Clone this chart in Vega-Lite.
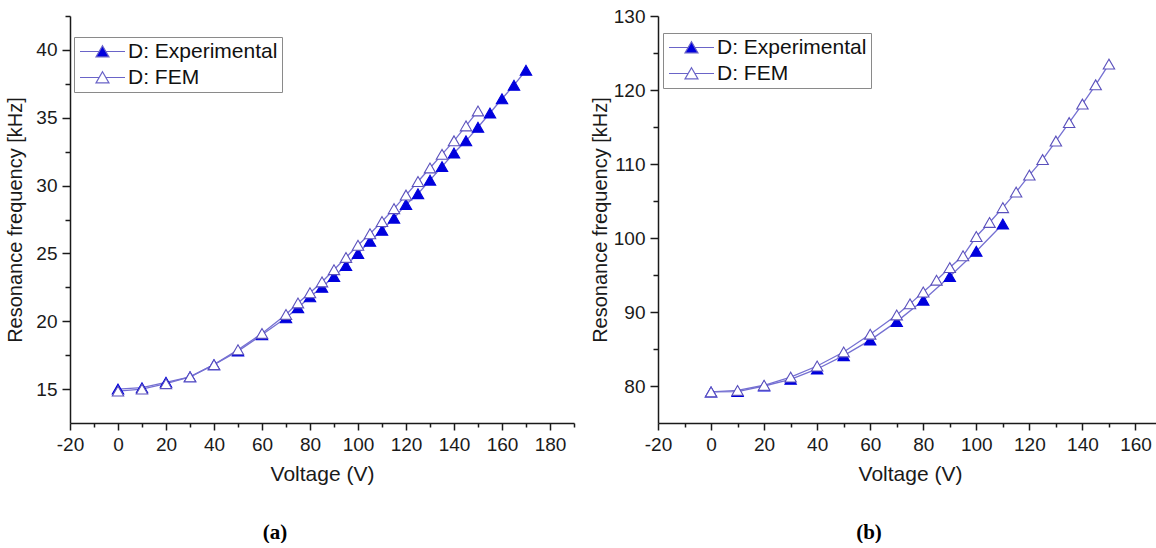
{
  "$schema": "https://vega.github.io/schema/vega-lite/v6.json",
  "padding": {"left": 5, "top": 7, "right": 0, "bottom": 0},
  "background": "white",
  "spacing": 15,
  "config": {
    "font": "Liberation Sans",
    "view": {"stroke": null},
    "axis": {
      "grid": false,
      "domainColor": "#1a1a1a",
      "domainWidth": 1.5,
      "tickColor": "#1a1a1a",
      "tickWidth": 1.5,
      "labelFont": "Liberation Sans",
      "labelFontSize": 19,
      "labelColor": "#1a1a1a",
      "titleFont": "Liberation Sans",
      "titleFontSize": 20,
      "titleFontWeight": "normal",
      "titleColor": "#1a1a1a",
      "labelOverlap": false,
      "labelFlush": false,
      "labelBound": false
    },
    "legend": {
      "orient": "none",
      "title": null,
      "padding": 4,
      "rowPadding": 4,
      "strokeColor": "#8a8a8a",
      "fillColor": "white",
      "labelFont": "Liberation Sans",
      "labelFontSize": 21,
      "labelColor": "#111111",
      "symbolType": "M -3.75 0 L -0.55 0 M 0.55 0 L 3.75 0 M 0 -0.95 L 1.08 0.9 L -1.08 0.9 Z",
      "symbolSize": 144,
      "symbolStrokeColor": "#6a64c8",
      "symbolStrokeWidth": 1.2,
      "symbolOffset": 14,
      "labelOffset": 15
    },
    "title": {"font": "Liberation Serif", "fontSize": 21, "fontWeight": "bold", "color": "#000000"}
  },
  "datasets": {
    "a": [
      {"series": "D: Experimental", "V": 0, "f": 15.0},
      {"series": "D: Experimental", "V": 10, "f": 15.1},
      {"series": "D: Experimental", "V": 20, "f": 15.5},
      {"series": "D: Experimental", "V": 30, "f": 15.9},
      {"series": "D: Experimental", "V": 40, "f": 16.8},
      {"series": "D: Experimental", "V": 50, "f": 17.8},
      {"series": "D: Experimental", "V": 60, "f": 19.0},
      {"series": "D: Experimental", "V": 70, "f": 20.25},
      {"series": "D: Experimental", "V": 75, "f": 21.0},
      {"series": "D: Experimental", "V": 80, "f": 21.8},
      {"series": "D: Experimental", "V": 85, "f": 22.5},
      {"series": "D: Experimental", "V": 90, "f": 23.3},
      {"series": "D: Experimental", "V": 95, "f": 24.1},
      {"series": "D: Experimental", "V": 100, "f": 25.0},
      {"series": "D: Experimental", "V": 105, "f": 25.9},
      {"series": "D: Experimental", "V": 110, "f": 26.7},
      {"series": "D: Experimental", "V": 115, "f": 27.6},
      {"series": "D: Experimental", "V": 120, "f": 28.6},
      {"series": "D: Experimental", "V": 125, "f": 29.4},
      {"series": "D: Experimental", "V": 130, "f": 30.4},
      {"series": "D: Experimental", "V": 135, "f": 31.4},
      {"series": "D: Experimental", "V": 140, "f": 32.4},
      {"series": "D: Experimental", "V": 145, "f": 33.3},
      {"series": "D: Experimental", "V": 150, "f": 34.3},
      {"series": "D: Experimental", "V": 155, "f": 35.35},
      {"series": "D: Experimental", "V": 160, "f": 36.4},
      {"series": "D: Experimental", "V": 165, "f": 37.4},
      {"series": "D: Experimental", "V": 170, "f": 38.5},
      {"series": "D: FEM", "V": 0, "f": 14.85},
      {"series": "D: FEM", "V": 10, "f": 15.0},
      {"series": "D: FEM", "V": 20, "f": 15.4},
      {"series": "D: FEM", "V": 30, "f": 15.9},
      {"series": "D: FEM", "V": 40, "f": 16.8},
      {"series": "D: FEM", "V": 50, "f": 17.9},
      {"series": "D: FEM", "V": 60, "f": 19.1},
      {"series": "D: FEM", "V": 70, "f": 20.5},
      {"series": "D: FEM", "V": 75, "f": 21.35},
      {"series": "D: FEM", "V": 80, "f": 22.1},
      {"series": "D: FEM", "V": 85, "f": 22.9},
      {"series": "D: FEM", "V": 90, "f": 23.8},
      {"series": "D: FEM", "V": 95, "f": 24.7},
      {"series": "D: FEM", "V": 100, "f": 25.6},
      {"series": "D: FEM", "V": 105, "f": 26.45},
      {"series": "D: FEM", "V": 110, "f": 27.35},
      {"series": "D: FEM", "V": 115, "f": 28.3},
      {"series": "D: FEM", "V": 120, "f": 29.3},
      {"series": "D: FEM", "V": 125, "f": 30.3},
      {"series": "D: FEM", "V": 130, "f": 31.3},
      {"series": "D: FEM", "V": 135, "f": 32.3},
      {"series": "D: FEM", "V": 140, "f": 33.3},
      {"series": "D: FEM", "V": 145, "f": 34.4},
      {"series": "D: FEM", "V": 150, "f": 35.5}
    ],
    "b": [
      {"series": "D: Experimental", "V": 0, "f": 79.2},
      {"series": "D: Experimental", "V": 10, "f": 79.25},
      {"series": "D: Experimental", "V": 20, "f": 80.0},
      {"series": "D: Experimental", "V": 30, "f": 80.9},
      {"series": "D: Experimental", "V": 40, "f": 82.3},
      {"series": "D: Experimental", "V": 50, "f": 84.1},
      {"series": "D: Experimental", "V": 60, "f": 86.2},
      {"series": "D: Experimental", "V": 70, "f": 88.7},
      {"series": "D: Experimental", "V": 80, "f": 91.6},
      {"series": "D: Experimental", "V": 90, "f": 94.8},
      {"series": "D: Experimental", "V": 100, "f": 98.2},
      {"series": "D: Experimental", "V": 110, "f": 101.9},
      {"series": "D: FEM", "V": 0, "f": 79.2},
      {"series": "D: FEM", "V": 10, "f": 79.4},
      {"series": "D: FEM", "V": 20, "f": 80.1},
      {"series": "D: FEM", "V": 30, "f": 81.2},
      {"series": "D: FEM", "V": 40, "f": 82.7},
      {"series": "D: FEM", "V": 50, "f": 84.6},
      {"series": "D: FEM", "V": 60, "f": 87.0},
      {"series": "D: FEM", "V": 70, "f": 89.6},
      {"series": "D: FEM", "V": 75, "f": 91.1},
      {"series": "D: FEM", "V": 80, "f": 92.7},
      {"series": "D: FEM", "V": 85, "f": 94.3},
      {"series": "D: FEM", "V": 90, "f": 96.0},
      {"series": "D: FEM", "V": 95, "f": 97.6},
      {"series": "D: FEM", "V": 100, "f": 100.2},
      {"series": "D: FEM", "V": 105, "f": 102.1},
      {"series": "D: FEM", "V": 110, "f": 104.1},
      {"series": "D: FEM", "V": 115, "f": 106.2},
      {"series": "D: FEM", "V": 120, "f": 108.5},
      {"series": "D: FEM", "V": 125, "f": 110.6},
      {"series": "D: FEM", "V": 130, "f": 113.1},
      {"series": "D: FEM", "V": 135, "f": 115.6},
      {"series": "D: FEM", "V": 140, "f": 118.1},
      {"series": "D: FEM", "V": 145, "f": 120.7},
      {"series": "D: FEM", "V": 150, "f": 123.5}
    ]
  },
  "resolve": {
    "scale": {"x": "independent", "y": "independent", "fill": "independent"},
    "legend": {"fill": "independent"}
  },
  "hconcat": [
    {
      "width": 504,
      "height": 407,
      "data": {"name": "a"},
      "title": {"text": "(a)", "orient": "bottom", "anchor": "middle", "frame": "group", "offset": 38, "dx": -47},
      "encoding": {
        "x": {
          "field": "V", "type": "quantitative",
          "scale": {"domain": [-20, 190], "nice": false, "zero": false},
          "axis": {
            "title": "Voltage (V)", "titleFontSize": 21, "titlePadding": 9,
            "values": [-20, -10, 0, 10, 20, 30, 40, 50, 60, 70, 80, 90, 100, 110, 120, 130, 140, 150, 160, 170, 180, 190],
            "labelExpr": "datum.value % 20 === 0 ? '' + datum.value : ''",
            "tickSize": {"condition": {"test": "datum.value % 20 !== 0", "value": 4}, "value": 7},
            "labelPadding": 5
          }
        },
        "y": {
          "field": "f", "type": "quantitative",
          "scale": {"domain": [12.5, 42.5], "nice": false, "zero": false},
          "axis": {
            "title": "Resonance frequency [kHz]", "titlePadding": 10,
            "values": [15, 17.5, 20, 22.5, 25, 27.5, 30, 32.5, 35, 37.5, 40, 42.5],
            "labelExpr": "datum.value % 5 === 0 ? '' + datum.value : ''",
            "tickSize": {"condition": {"test": "datum.value % 5 !== 0", "value": 5}, "value": 8},
            "labelPadding": 5
          }
        }
      },
      "layer": [
        {
          "mark": {"type": "line", "color": "#7570d2", "strokeWidth": 1.3},
          "encoding": {"detail": {"field": "series", "type": "nominal"}}
        },
        {
          "mark": {"type": "point", "shape": "triangle-up", "filled": true, "size": 130, "strokeWidth": 1.1, "opacity": 1},
          "encoding": {
            "fill": {
              "field": "series", "type": "nominal",
              "scale": {"domain": ["D: Experimental", "D: FEM"], "range": ["#0000dd", "#ffffff"]},
              "legend": {"legendX": 4, "legendY": 21, "symbolStrokeColor": "#6a64c8"}
            },
            "stroke": {
              "condition": {"test": "datum.series === 'D: FEM'", "value": "#5a50bc"},
              "value": "#0000dd"
            }
          }
        }
      ]
    },
    {
      "width": 504,
      "height": 407,
      "data": {"name": "b"},
      "title": {"text": "(b)", "orient": "bottom", "anchor": "middle", "frame": "group", "offset": 38, "dx": -41},
      "encoding": {
        "x": {
          "field": "V", "type": "quantitative",
          "scale": {"domain": [-20, 170], "nice": false, "zero": false},
          "axis": {
            "title": "Voltage (V)", "titleFontSize": 21, "titlePadding": 9,
            "values": [-20, -10, 0, 10, 20, 30, 40, 50, 60, 70, 80, 90, 100, 110, 120, 130, 140, 150, 160, 170],
            "labelExpr": "datum.value % 20 === 0 ? '' + datum.value : ''",
            "tickSize": {"condition": {"test": "datum.value % 20 !== 0", "value": 4}, "value": 7},
            "labelPadding": 5
          }
        },
        "y": {
          "field": "f", "type": "quantitative",
          "scale": {"domain": [75, 130], "nice": false, "zero": false},
          "axis": {
            "title": "Resonance frequency [kHz]", "titlePadding": 3,
            "values": [80, 85, 90, 95, 100, 105, 110, 115, 120, 125, 130],
            "labelExpr": "datum.value % 10 === 0 ? '' + datum.value : ''",
            "tickSize": {"condition": {"test": "datum.value % 10 !== 0", "value": 5}, "value": 8},
            "labelPadding": 5
          }
        }
      },
      "layer": [
        {
          "mark": {"type": "line", "color": "#7570d2", "strokeWidth": 1.3},
          "encoding": {"detail": {"field": "series", "type": "nominal"}}
        },
        {
          "mark": {"type": "point", "shape": "triangle-up", "filled": true, "size": 130, "strokeWidth": 1.1, "opacity": 1},
          "encoding": {
            "fill": {
              "field": "series", "type": "nominal",
              "scale": {"domain": ["D: Experimental", "D: FEM"], "range": ["#0000dd", "#ffffff"]},
              "legend": {"legendX": 5, "legendY": 17, "symbolStrokeColor": "#6a64c8"}
            },
            "stroke": {
              "condition": {"test": "datum.series === 'D: FEM'", "value": "#5a50bc"},
              "value": "#0000dd"
            }
          }
        }
      ]
    }
  ]
}
